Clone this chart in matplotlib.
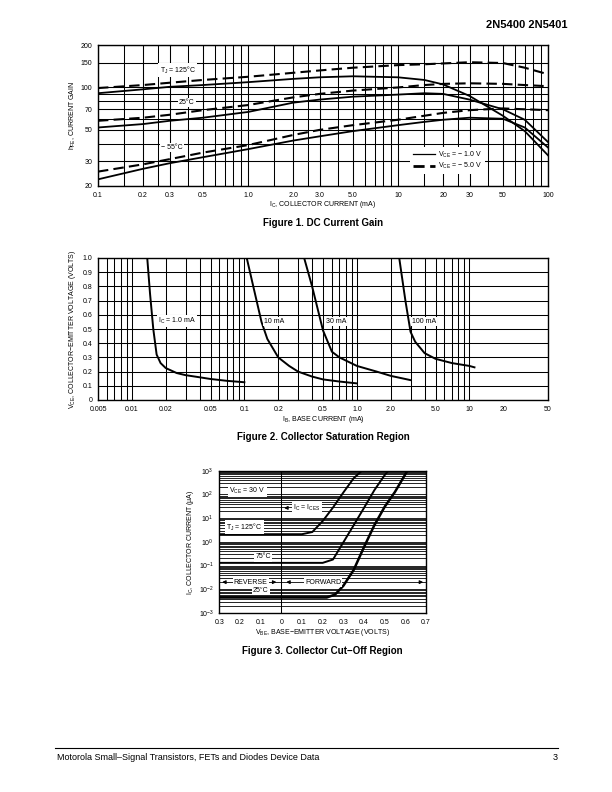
import numpy as np
import matplotlib
matplotlib.use("Agg")
import matplotlib.pyplot as plt
from matplotlib.lines import Line2D
from matplotlib.ticker import FixedLocator, FixedFormatter, NullFormatter

plt.rcParams["font.family"] = ["Liberation Sans", "DejaVu Sans"]
plt.rcParams["mathtext.fontset"] = "custom"
plt.rcParams["mathtext.rm"] = "Liberation Sans"
plt.rcParams["mathtext.it"] = "Liberation Sans"
plt.rcParams["font.size"] = 5

# ---- Figure 1: DC current gain ----
ic = [0.1, 0.2, 0.3, 0.5, 1.0, 2.0, 3.0, 5.0, 10, 15, 20, 30, 50, 70, 100]
h125_5v = [99, 104, 108, 113, 119, 127, 132, 138, 144, 146, 148, 151, 149, 138, 124]
h125_1v = [91, 97, 101, 104, 109, 115, 118, 120, 118, 113, 105, 87, 63, 49, 33]
h25_5v = [58, 61, 64, 69, 75, 85, 90, 95, 100, 104, 106, 107, 106, 104, 102]
h25_1v = [52, 55, 58, 61, 67, 78, 82, 86, 89, 91, 90, 82, 70, 59, 41]
hm55_5v = [25.3, 28.5, 31, 34.5, 39, 46, 50, 54, 59, 63, 66, 69, 71, 70, 69]
hm55_1v = [22.3, 26.5, 29, 32, 36.5, 42, 45, 49, 54, 57, 59, 61, 60, 52, 37.5]
f1_xticks = [0.1, 0.2, 0.3, 0.5, 1.0, 2.0, 3.0, 5.0, 10, 20, 30, 50, 100]
f1_xlabels = ["0.1", "0.2", "0.3", "0.5", "1.0", "2.0", "3.0", "5.0", "10", "20", "30", "50", "100"]
f1_yticks = [20, 30, 50, 70, 100, 150, 200]
f1_ygrid = [20, 30, 40, 50, 60, 70, 80, 90, 100, 150, 200]

# ---- Figure 2: collector saturation region ----
ib_1ma = [0.0137, 0.0145, 0.0155, 0.0166, 0.018, 0.02, 0.025, 0.03, 0.04, 0.05, 0.07, 0.1]
v_1ma = [1.0, 0.75, 0.5, 0.32, 0.26, 0.225, 0.19, 0.175, 0.16, 0.148, 0.135, 0.125]
ib_10ma = [0.105, 0.12, 0.142, 0.16, 0.2, 0.25, 0.3, 0.4, 0.5, 0.7, 1.0]
v_10ma = [1.0, 0.8, 0.55, 0.43, 0.3, 0.24, 0.2, 0.165, 0.145, 0.13, 0.117]
ib_30ma = [0.34, 0.4, 0.5, 0.6, 0.7, 1.0, 1.5, 2.0, 3.0]
v_30ma = [1.0, 0.8, 0.49, 0.34, 0.3, 0.24, 0.2, 0.17, 0.14]
ib_100ma = [2.38, 2.7, 3.0, 3.3, 4.0, 5.0, 7.0, 10, 11.1]
v_100ma = [1.0, 0.7, 0.48, 0.41, 0.33, 0.29, 0.26, 0.24, 0.23]
f2_xticks = [0.005, 0.01, 0.02, 0.05, 0.1, 0.2, 0.5, 1.0, 2.0, 5.0, 10, 20, 50]
f2_xlabels = ["0.005", "0.01", "0.02", "0.05", "0.1", "0.2", "0.5", "1.0", "2.0", "5.0", "10", "20", "50"]

# ---- Figure 3: collector cut-off region ----
vbe_125 = [-0.3, 0.1, 0.15, 0.2, 0.25, 0.3, 0.35, 0.39]
ic_125 = [2.1, 2.1, 2.6, 7.5, 28, 120, 480, 1000]
vbe_75 = [-0.3, 0.2, 0.25, 0.3, 0.35, 0.4, 0.45, 0.5, 0.518]
ic_75 = [0.13, 0.13, 0.18, 0.95, 5, 27, 150, 650, 1000]
vbe_25 = [-0.3, 0.22, 0.26, 0.3, 0.35, 0.4, 0.45, 0.5, 0.55, 0.61]
ic_25 = [0.0045, 0.0045, 0.006, 0.014, 0.065, 0.6, 5, 30, 128, 1000]
f3_xticks = [-0.3, -0.2, -0.1, 0, 0.1, 0.2, 0.3, 0.4, 0.5, 0.6, 0.7]
f3_xlabels = ["0.3", "0.2", "0.1", "0", "0.1", "0.2", "0.3", "0.4", "0.5", "0.6", "0.7"]
f3_yticks = [1e-3, 1e-2, 1e-1, 1e0, 1e1, 1e2, 1e3]
f3_ylabels = ["10$^{-3}$", "10$^{-2}$", "10$^{-1}$", "10$^{0}$", "10$^{1}$", "10$^{2}$", "10$^{3}$"]

W, H = 612, 792
fig = plt.figure(figsize=(6.12, 7.92), dpi=100)


def px_axes(x0, y0, x1, y1):
    return fig.add_axes([x0 / W, 1 - y1 / H, (x1 - x0) / W, (y1 - y0) / H])


def style(ax):
    for s in ax.spines.values():
        s.set_linewidth(1.0)
    ax.tick_params(which="both", length=0, labelsize=5, pad=4)
    ax.set_axisbelow(True)


def ftext(x, y, s, **kw):
    fig.text(x / W, 1 - y / H, s, **kw)


box = dict(fc="white", ec="none", pad=0.8)
grid_kw = dict(color="black", linewidth=0.75)

# Figure 1
ax1 = px_axes(98, 45, 548, 186)
ax1.set_xscale("log")
ax1.set_yscale("log")
ax1.set_xlim(0.1, 100)
ax1.set_ylim(20, 200)
xg = [m * d for d in (0.1, 1, 10) for m in (1, 1.5, 2, 2.5, 3, 4, 5, 6, 7, 8, 9)] + [100]
ax1.xaxis.set_major_locator(FixedLocator(f1_xticks))
ax1.xaxis.set_major_formatter(FixedFormatter(f1_xlabels))
ax1.xaxis.set_minor_locator(FixedLocator(xg))
ax1.xaxis.set_minor_formatter(NullFormatter())
ax1.yaxis.set_major_locator(FixedLocator(f1_yticks))
ax1.yaxis.set_major_formatter(FixedFormatter([str(v) for v in f1_yticks]))
ax1.yaxis.set_minor_locator(FixedLocator(f1_ygrid))
ax1.yaxis.set_minor_formatter(NullFormatter())
ax1.xaxis.remove_overlapping_locs = False
ax1.yaxis.remove_overlapping_locs = False
ax1.grid(True, which="both", **grid_kw)
style(ax1)

dash = (0, (5, 2.5))
for h in (h125_5v, h25_5v, hm55_5v):
    ax1.plot(ic, h, color="black", lw=1.5, linestyle=dash)
for h in (h125_1v, h25_1v, hm55_1v):
    ax1.plot(ic, h, color="black", lw=1.3)
ax1.text(0.34, 133, "T$_{\\rm J}$ = 125°C", ha="center", va="center", bbox=box)
ax1.text(0.39, 78, "25°C", ha="center", va="center", bbox=box)
ax1.text(0.31, 37.4, "− 55°C", ha="center", va="center", bbox=box)
handles = [Line2D([], [], color="black", lw=0.9),
           Line2D([], [], color="black", lw=2.0, linestyle=(0, (4, 2)))]
leg = ax1.legend(handles, ["V$_{\\rm CE}$ = − 1.0 V", "V$_{\\rm CE}$ = − 5.0 V"],
                 loc="lower left", bbox_to_anchor=(0.685, 0.06), fontsize=5,
                 handlelength=3.2, handletextpad=0.5, labelspacing=0.2,
                 borderpad=0.4, frameon=True, fancybox=False)
leg.get_frame().set_facecolor("white")
leg.get_frame().set_edgecolor("none")
leg.get_frame().set_alpha(1)

ftext(73, 115.5, "h$_{\\rm FE}$, CURRENT GAIN", rotation=90, ha="center", va="center", fontsize=5)
ftext(323, 205, "I$_{\\rm C}$, COLLECTOR CURRENT (mA)", ha="center", va="center", fontsize=5)
ftext(323, 223, "Figure 1. DC Current Gain", ha="center", va="center", fontsize=7, weight="bold")

# Figure 2
ax2 = px_axes(98, 258, 548, 400)
ax2.set_xscale("log")
ax2.set_xlim(0.005, 50)
ax2.set_ylim(0, 1.0)
xg2 = [m * d for d in (0.001, 0.01, 0.1, 1) for m in range(1, 10) if 0.005 <= m * d] + [10]
ax2.xaxis.set_major_locator(FixedLocator(f2_xticks))
ax2.xaxis.set_major_formatter(FixedFormatter(f2_xlabels))
ax2.xaxis.set_minor_locator(FixedLocator(xg2))
ax2.xaxis.set_minor_formatter(NullFormatter())
ax2.xaxis.remove_overlapping_locs = False
ax2.yaxis.set_major_locator(FixedLocator(np.round(np.arange(0, 1.01, 0.1), 1)))
ax2.yaxis.set_major_formatter(FixedFormatter(["0"] + ["%.1f" % v for v in np.arange(0.1, 1.01, 0.1)]))
ax2.xaxis.grid(True, which="minor", **grid_kw)
ax2.xaxis.grid(False, which="major")
ax2.yaxis.grid(True, which="major", **grid_kw)
style(ax2)
for xs, ys in ((ib_1ma, v_1ma), (ib_10ma, v_10ma), (ib_30ma, v_30ma), (ib_100ma, v_100ma)):
    ax2.plot(xs, ys, color="black", lw=1.4)
ax2.text(0.0172, 0.555, "I$_{\\rm C}$ = 1.0 mA", ha="left", va="center", bbox=box)
ax2.text(0.15, 0.555, "10 mA", ha="left", va="center", bbox=box)
ax2.text(0.53, 0.555, "30 mA", ha="left", va="center", bbox=box)
ax2.text(3.07, 0.555, "100 mA", ha="left", va="center", bbox=box)

ftext(73, 329, "V$_{\\rm CE}$, COLLECTOR−EMITTER VOLTAGE (VOLTS)", rotation=90, ha="center", va="center", fontsize=5)
ftext(323, 419, "I$_{\\rm B}$, BASE CURRENT (mA)", ha="center", va="center", fontsize=5)
ftext(323, 437, "Figure 2. Collector Saturation Region", ha="center", va="center", fontsize=7, weight="bold")

# Figure 3
ax3 = px_axes(219.3, 470.7, 426, 613)
ax3.set_yscale("log")
ax3.set_xlim(-0.3, 0.7)
ax3.set_ylim(1e-3, 1e3)
ax3.xaxis.set_major_locator(FixedLocator(f3_xticks))
ax3.xaxis.set_major_formatter(FixedFormatter(f3_xlabels))
ax3.yaxis.set_major_locator(FixedLocator(f3_yticks))
ax3.yaxis.set_major_formatter(FixedFormatter(f3_ylabels))
ax3.yaxis.set_minor_locator(FixedLocator([m * 10.0 ** e for e in range(-3, 3) for m in range(2, 10)]))
ax3.yaxis.set_minor_formatter(NullFormatter())
ax3.yaxis.grid(True, which="both", color="black", linewidth=0.6)
ax3.axvline(0, **grid_kw)
style(ax3)
ax3.plot(vbe_125, ic_125, color="black", lw=1.4)
ax3.plot(vbe_75, ic_75, color="black", lw=1.4)
ax3.plot(vbe_25, ic_25, color="black", lw=1.8)
ax3.text(-0.164, 140, "V$_{\\rm CE}$ = 30 V", ha="center", va="center", bbox=box)
ax3.text(0.125, 27, "I$_{\\rm C}$ = I$_{\\rm CES}$", ha="center", va="center", bbox=box)
ax3.annotate("", xy=(0.0, 27), xytext=(0.045, 27),
             arrowprops=dict(arrowstyle="-|>", color="black", lw=0.8, mutation_scale=5))
ax3.text(-0.178, 4.2, "T$_{\\rm J}$ = 125°C", ha="center", va="center", bbox=box)
ax3.text(-0.088, 0.23, "75°C", ha="center", va="center", bbox=box)
ax3.text(-0.1, 0.0093, "25°C", ha="center", va="center", bbox=box)
ax3.text(-0.148, 0.02, "REVERSE", ha="center", va="center", bbox=box)
ax3.text(0.203, 0.02, "FORWARD", ha="center", va="center", bbox=box)
arrow_kw = dict(arrowstyle="-|>", color="black", lw=0.8, mutation_scale=5)
ax3.annotate("", xy=(-0.3, 0.02), xytext=(-0.255, 0.02), arrowprops=arrow_kw)
ax3.annotate("", xy=(-0.01, 0.02), xytext=(-0.055, 0.02), arrowprops=arrow_kw)
ax3.annotate("", xy=(0.01, 0.02), xytext=(0.055, 0.02), arrowprops=arrow_kw)
ax3.annotate("", xy=(0.7, 0.02), xytext=(0.655, 0.02), arrowprops=arrow_kw)

ftext(191, 542, "I$_{\\rm C}$, COLLECTOR CURRENT (μA)", rotation=90, ha="center", va="center", fontsize=5)
ftext(322, 633, "V$_{\\rm BE}$, BASE−EMITTER VOLTAGE (VOLTS)", ha="center", va="center", fontsize=5)
ftext(322, 651, "Figure 3. Collector Cut−Off Region", ha="center", va="center", fontsize=7, weight="bold")

# page header and footer
ftext(568, 25, "2N5400 2N5401", ha="right", va="center", fontsize=8, weight="heavy")
fig.add_artist(Line2D([55 / W, 558 / W], [1 - 748 / H, 1 - 748 / H], color="black", lw=0.8))
ftext(57, 757, "Motorola Small–Signal Transistors, FETs and Diodes Device Data", ha="left", va="center", fontsize=6.5)
ftext(558, 757, "3", ha="right", va="center", fontsize=6.5)

fig.savefig("out.png", dpi=100)
